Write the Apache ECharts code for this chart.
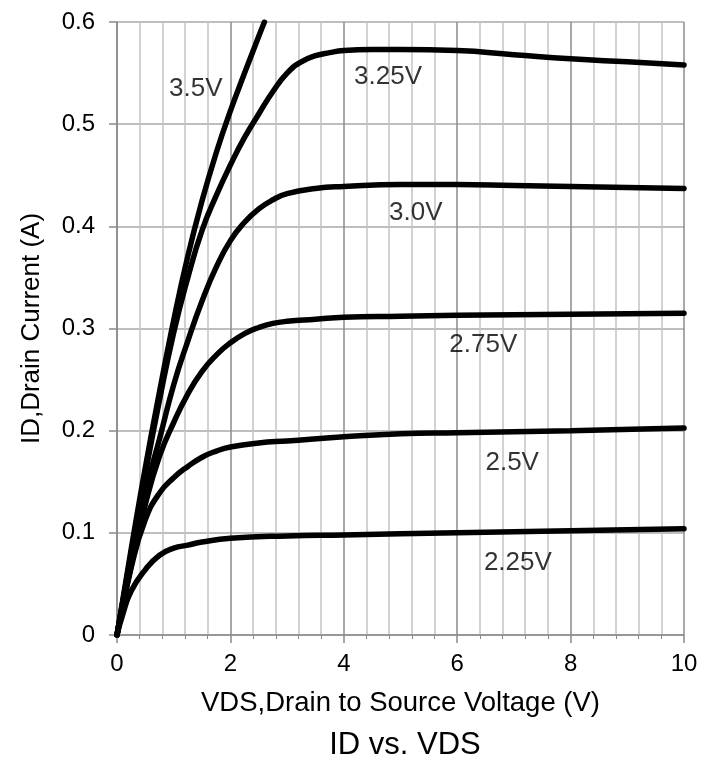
<!DOCTYPE html>
<html>
<head>
<meta charset="utf-8">
<script src="https://cdn.jsdelivr.net/npm/echarts@6/dist/echarts.min.js"></script>
<style>
html,body{margin:0;padding:0;background:#fff;}
#chart{width:716px;height:762px;}
</style>
</head>
<body>
<div id="chart"></div>
<script>
// ---- Data (VDS in V, ID in A) ----
var vgs_3_5V = [[0,0],[0.25,0.084],[0.5,0.164],[0.75,0.238],[1.0,0.308],[1.25,0.371],[1.5,0.425],[1.75,0.472],[2.0,0.513],[2.25,0.55],[2.5,0.586],[2.6,0.6]];
var vgs_3_25V = [[0,0],[0.25,0.08],[0.5,0.158],[0.75,0.23],[1.0,0.296],[1.25,0.35],[1.5,0.396],[1.75,0.43],[2.0,0.46],[2.25,0.487],[2.5,0.51],[2.75,0.532],[3.0,0.55],[3.25,0.561],[3.5,0.567],[3.75,0.57],[4,0.572],[4.5,0.573],[5,0.573],[6,0.572],[7,0.568],[8,0.564],[9,0.561],[10,0.558]];
var vgs_3_0V = [[0,0],[0.25,0.075],[0.5,0.14],[0.75,0.192],[1.0,0.245],[1.25,0.288],[1.5,0.327],[1.75,0.36],[2.0,0.386],[2.25,0.404],[2.5,0.417],[2.75,0.426],[3.0,0.432],[3.5,0.437],[4,0.439],[5,0.441],[6,0.441],[7,0.44],[8,0.439],[9,0.438],[10,0.437]];
var vgs_2_75V = [[0,0],[0.25,0.068],[0.5,0.128],[0.75,0.175],[1.0,0.208],[1.25,0.236],[1.5,0.258],[1.75,0.274],[2.0,0.286],[2.25,0.295],[2.5,0.301],[2.75,0.305],[3.0,0.307],[3.5,0.309],[4,0.311],[5,0.312],[6,0.313],[8,0.314],[10,0.315]];
var vgs_2_5V = [[0,0],[0.25,0.066],[0.5,0.113],[0.75,0.139],[1.0,0.154],[1.25,0.165],[1.5,0.174],[1.75,0.18],[2.0,0.184],[2.5,0.188],[3,0.19],[4,0.194],[5,0.197],[6,0.198],[8,0.2],[10,0.2025]];
var vgs_2_25V = [[0,0],[0.1,0.02],[0.25,0.043],[0.5,0.064],[0.75,0.078],[1.0,0.085],[1.25,0.088],[1.5,0.091],[2,0.0946],[3,0.097],[4,0.098],[6,0.1],[8,0.102],[10,0.104]];

var curveNames = ['3.5V','3.25V','3.0V','2.75V','2.5V','2.25V'];
var curveData = [vgs_3_5V, vgs_3_25V, vgs_3_0V, vgs_2_75V, vgs_2_5V, vgs_2_25V];
// label anchor points (data coords)
var labelPoints = [[1.39,0.535],[4.78,0.546],[5.27,0.413],[6.46,0.284],[6.97,0.169],[7.07,0.0705]];

var xTicks = [0,2,4,6,8,10];
var yTicks = [0,0.1,0.2,0.3,0.4,0.5,0.6];

var FONT = '"Liberation Sans", Arial, sans-serif';

var series = curveData.map(function(d, i){
  return {
    type:'line', name: curveNames[i], data: d, showSymbol:false,
    smooth:0.5,
    lineStyle:{color:'#000', width:5.5, cap:'round', join:'round'}, clip:true, z:3
  };
});
series.push({
  type:'scatter', symbolSize:0, z:4,
  data: labelPoints.map(function(p,i){ return {value:p, name:curveNames[i]}; }),
  label:{show:true, position:'inside', formatter:function(p){return p.name;},
    color:'#000', fontSize:26, fontFamily:FONT}
});

var chart = echarts.init(document.getElementById('chart'), null, {renderer:'canvas'});
chart.setOption({
  animation:false,
  backgroundColor:'#fff',
  title:{text:'ID vs. VDS', left:400, top:725, textAlign:'center',
    textStyle:{fontSize:31, fontWeight:'normal', color:'#000', fontFamily:FONT}},
  grid:{left:117, right:32, top:22, bottom:127, containLabel:false},
  xAxis:{
    type:'value', min:0, max:10, interval:2,
    name:'VDS,Drain to Source Voltage (V)', nameLocation:'middle', nameGap:54,
    nameTextStyle:{fontSize:27.5, color:'#000', fontFamily:FONT},
    axisLine:{onZero:false, lineStyle:{color:'#8a8a8a', width:1.5}},
    axisTick:{show:true, length:8, lineStyle:{color:'#8a8a8a', width:1.5}},
    minorTick:{show:true, splitNumber:5, length:4, lineStyle:{color:'#8a8a8a', width:1}},
    axisLabel:{fontSize:24, color:'#000', fontFamily:FONT, margin:17,
      formatter:function(v){ return xTicks.indexOf(v)>=0 ? String(v) : ''; }},
    splitLine:{show:true, lineStyle:{color:'#8c8c8c', width:1.5}},
    minorSplitLine:{show:true, lineStyle:{color:'#c4c4c4', width:1.5}}
  },
  yAxis:{
    type:'value', min:0, max:0.6, interval:0.1,
    name:'ID,Drain Current (A)', nameLocation:'middle', nameGap:72, nameRotate:90,
    nameTextStyle:{fontSize:26, color:'#000', fontFamily:FONT},
    axisLine:{show:true, lineStyle:{color:'#8a8a8a', width:1.5}},
    axisTick:{show:true, length:8, lineStyle:{color:'#8a8a8a', width:1.5}},
    axisLabel:{fontSize:24, color:'#000', fontFamily:FONT, margin:22,
      formatter:function(v){ var r=Math.round(v*10)/10; return r===0?'0':r.toFixed(1); }},
    splitLine:{show:true, lineStyle:{color:'#a8a8a8', width:1.5}}
  },
  series: series
});
</script>
</body>
</html>
